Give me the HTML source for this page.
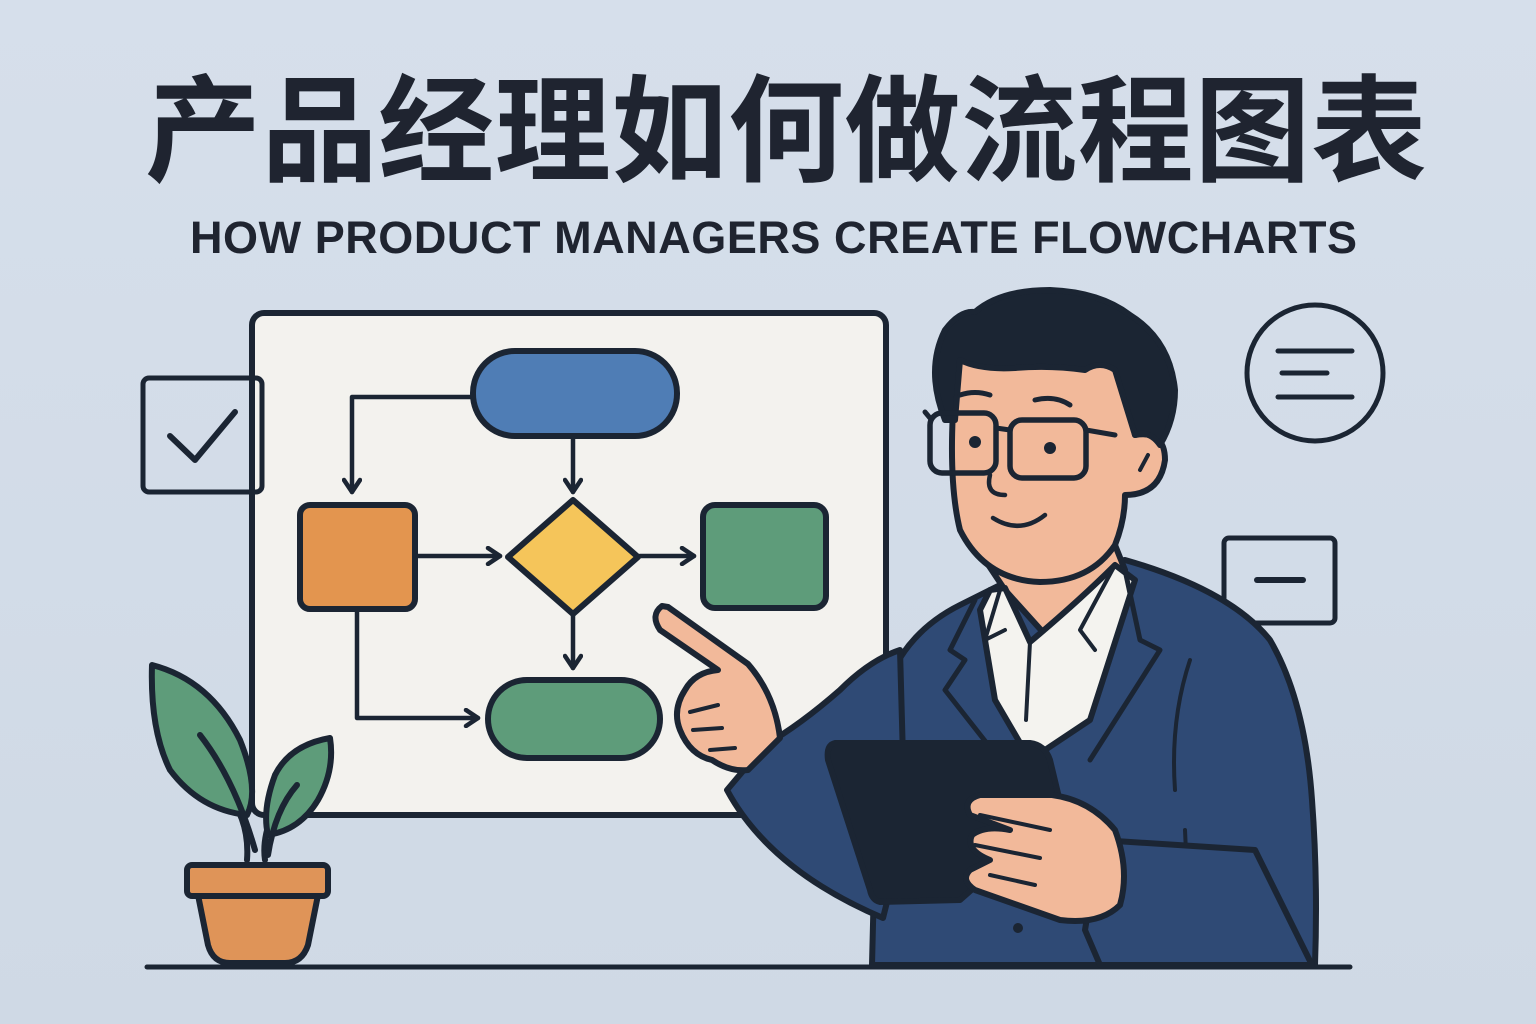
<!DOCTYPE html>
<html><head><meta charset="utf-8"><style>
html,body{margin:0;padding:0;width:1536px;height:1024px;overflow:hidden;background:#d3dce8}
</style></head><body>
<svg width="1536" height="1024" viewBox="0 0 1536 1024" xmlns="http://www.w3.org/2000/svg">
<defs>
<linearGradient id="bg" x1="0" y1="0" x2="0" y2="1"><stop offset="0" stop-color="#d6dfeb"/><stop offset="1" stop-color="#cfd9e5"/></linearGradient>
<marker id="ar" viewBox="0 0 20 20" refX="16" refY="10" markerWidth="20" markerHeight="20" markerUnits="userSpaceOnUse" orient="auto"><path d="M4,2 L16,10 L4,18" fill="none" stroke="#1b2533" stroke-width="4.5" stroke-linecap="round" stroke-linejoin="round"/></marker>
</defs>
<rect width="1536" height="1024" fill="url(#bg)"/>
<text x="145" y="172" font-family="'Noto Sans CJK SC',sans-serif" font-weight="bold" font-size="116" fill="#1f2430" textLength="1282" lengthAdjust="spacing">产品经理如何做流程图表</text>
<text x="190" y="253" font-family="'Liberation Sans',sans-serif" font-weight="bold" font-size="45" fill="#1f2430" textLength="1167" lengthAdjust="spacing">HOW PRODUCT MANAGERS CREATE FLOWCHARTS</text>

<g stroke="#1b2533" stroke-width="6" stroke-linejoin="round" stroke-linecap="round">
<rect x="252" y="313" width="634" height="502" rx="12" fill="#f3f2ee"/>
<g fill="none" stroke-width="4.5" marker-end="url(#ar)">
<path d="M473,397 L352,397 L352,492"/>
<path d="M573,437 L573,492"/>
<path d="M416,556 L500,556"/>
<path d="M640,556 L694,556"/>
<path d="M573,615 L573,668"/>
<path d="M357,610 L357,718 L478,718"/>
</g>
<rect x="473" y="351" width="204" height="85" rx="42" fill="#4f7db5"/>
<rect x="300" y="505" width="115" height="104" rx="10" fill="#e3954f"/>
<path d="M573,500 L638,557 L573,614 L508,557 Z" fill="#f5c55a"/>
<rect x="703" y="505" width="123" height="103" rx="12" fill="#5e9c7a"/>
<rect x="488" y="680" width="172" height="78" rx="39" fill="#5e9c7a"/>

<rect x="143" y="378" width="119" height="114" rx="6" fill="none" stroke-width="5"/>
<path d="M170,436 L195,460 L235,412" fill="none" stroke-width="6"/>
<circle cx="1315" cy="373" r="68" fill="none" stroke-width="5"/>
<path d="M1278,351 L1352,351 M1282,373 L1327,373 M1278,397 L1352,397" stroke-width="5"/>
<rect x="1224" y="538" width="111" height="85" rx="5" fill="none" stroke-width="5"/>
<path d="M1257,580 L1303,580" stroke-width="6"/>

<path d="M247,860 Q250,820 225,790 M265,860 Q262,840 272,815" fill="none"/>
<path d="M152,665 Q210,680 240,740 Q260,790 247,815 Q200,810 170,770 Q150,730 152,665 Z" fill="#5e9c7a"/>
<path d="M200,735 Q235,780 255,850" fill="none"/>
<path d="M330,738 Q290,745 275,775 Q262,810 268,835 Q300,830 318,800 Q335,770 330,738 Z" fill="#5e9c7a"/>
<path d="M297,785 Q275,810 268,855" fill="none"/>
<path d="M198,895 L318,895 L308,945 Q302,963 285,963 L230,963 Q213,963 208,945 Z" fill="#df9458"/>
<rect x="187" y="865" width="141" height="31" rx="5" fill="#df9458"/>
<path d="M147,967 L1350,967" stroke-width="5"/>

<!-- suit torso -->
<path d="M872,965 L878,720 Q890,640 960,605 L1000,585 L1125,560 Q1230,590 1270,640 Q1305,700 1312,800 Q1318,880 1315,965 Z" fill="#2f4a75"/>
<path d="M985,560 L1115,545 L1125,570 L1050,640 L1005,590 Z" fill="#f2b99a"/>
<path d="M990,590 L1005,588 Q1020,620 1030,642 Q1080,600 1115,565 L1135,580 L1090,720 L1030,760 L995,700 L980,610 Z" fill="#f4f3ef"/>
<path d="M1030,642 L1026,720" fill="none" stroke-width="4"/>
<path d="M1000,590 L985,640 L1005,630 M1115,565 L1080,630 L1095,650" fill="none" stroke-width="4"/>
<path d="M975,600 L950,650 L965,660 L945,690 L1000,760" fill="none" stroke-width="5"/>
<path d="M1125,570 L1140,640 L1160,650 L1090,760" fill="none" stroke-width="5"/>
<path d="M1190,660 Q1170,720 1175,790 M1185,830 L1190,940" fill="none" stroke-width="4"/>
<circle cx="1018" cy="928" r="5" fill="#1b2533" stroke="none"/>
<!-- left sleeve -->
<path d="M900,650 Q870,660 840,690 Q800,725 765,745 L727,790 Q770,870 883,918 L905,830 Z" fill="#2f4a75"/>
<!-- pointing hand -->
<path d="M662,606 Q650,615 660,630 L718,670 Q695,672 685,690 Q672,710 680,730 Q690,755 712,760 Q730,772 748,770 L780,738 Q775,695 748,664 Q700,630 668,607 Z" fill="#f2b99a"/>
<path d="M690,712 L718,705 M693,730 L722,728 M710,750 L735,748" fill="none" stroke-width="4"/>
<path d="M835,743 L1030,743 Q1045,745 1050,760 L1062,810 L960,900 L880,902 Q872,900 870,890 L828,760 Q826,745 835,743 Z" fill="#1b2533"/>
<path d="M1100,840 L1255,850 L1312,965 L1100,965 L1085,930 Z" fill="#2f4a75"/>
<path d="M1052,795 Q1090,800 1115,830 Q1130,870 1120,905 Q1100,925 1060,920 L975,890 Q960,880 970,870 L990,860 Q965,850 972,835 Q985,825 1010,830 L970,815 Q962,800 980,795 Z" fill="#f2b99a"/>
<path d="M980,815 L1050,830 M975,845 L1040,858 M990,875 L1035,885" fill="none" stroke-width="4"/>

<!-- head -->
<path d="M958,350 Q945,470 960,530 Q985,580 1040,582 Q1090,582 1115,545 Q1125,520 1125,495 Q1160,495 1165,460 Q1165,430 1135,435 L1120,350 Z" fill="#f2b99a"/>
<path d="M1140,470 L1148,455" fill="none" stroke-width="4"/>
<path d="M945,420 Q925,370 945,330 Q960,310 975,312 Q1000,290 1050,290 Q1100,292 1130,315 Q1170,340 1175,390 Q1175,420 1160,445 Q1150,430 1135,435 L1115,370 Q1100,360 1085,370 Q1050,365 1015,368 Q980,370 960,360 L955,420 Z" fill="#1b2533"/>
<rect x="930" y="413" width="66" height="60" rx="12" fill="none" stroke-width="5.5"/>
<rect x="1010" y="420" width="76" height="58" rx="12" fill="none" stroke-width="5.5"/>
<path d="M996,428 L1010,430 M1086,430 L1115,435 M930,418 L925,412" fill="none" stroke-width="5"/>
<circle cx="975" cy="442" r="6" fill="#1b2533" stroke="none"/>
<circle cx="1050" cy="448" r="6" fill="#1b2533" stroke="none"/>
<path d="M960,395 Q975,390 990,395 M1035,400 Q1055,395 1070,405" fill="none" stroke-width="5"/>
<path d="M990,475 Q985,495 1005,495" fill="none" stroke-width="4.5"/>
<path d="M993,518 Q1020,535 1045,515" fill="none" stroke-width="4.5"/>
</g>
</svg>
</body></html>
